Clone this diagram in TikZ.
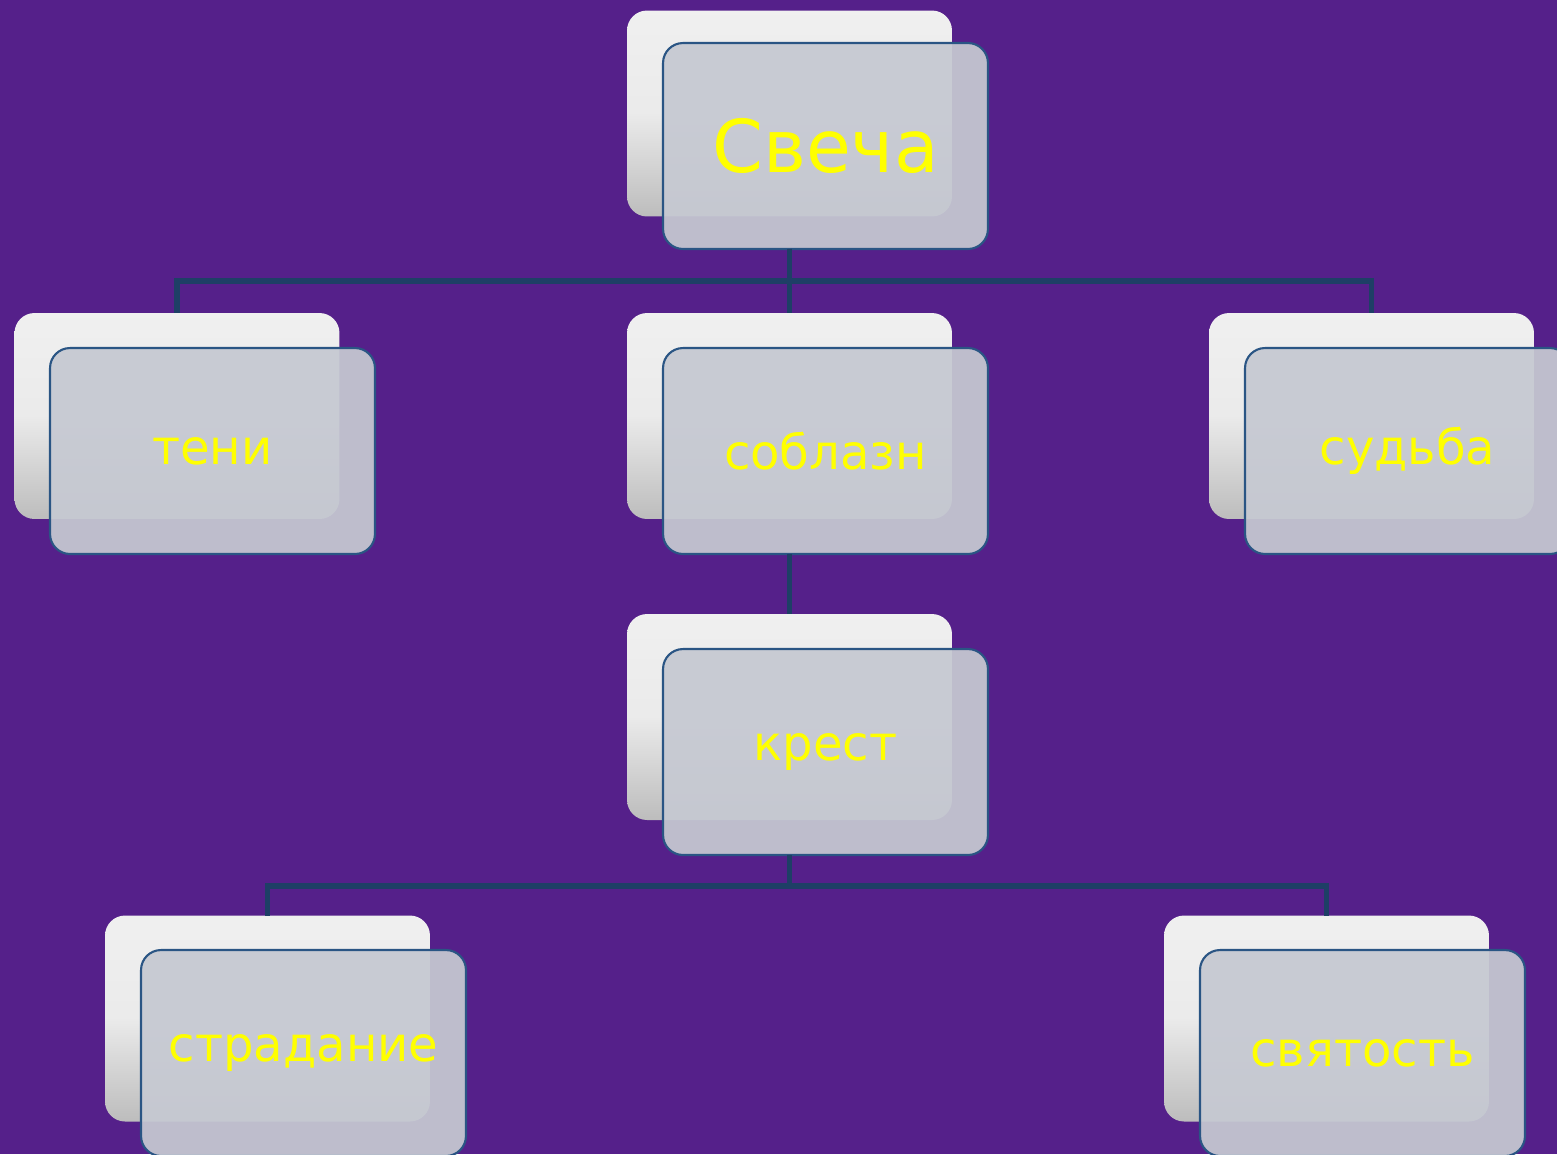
\documentclass[tikz,border=0pt]{standalone}
\usepackage{fontspec}
\setmainfont{DejaVu Sans}
\usepackage{tikz}

\definecolor{bgpurple}{HTML}{55208A}
\definecolor{boxfill}{HTML}{C6C9D2}
\definecolor{boxline}{HTML}{2A5584}
\definecolor{linkline}{HTML}{1E3F66}
\definecolor{wordyellow}{HTML}{FFFF00}

\tikzset{
  backbox/.style={rectangle,rounded corners=0.4cm,minimum width=6.5cm,minimum height=4.12cm,
    inner sep=0pt,outer sep=0pt,top color=gray!12,bottom color=gray!52,middle color=gray!16},
  frontbox/.style={rectangle,rounded corners=0.4cm,minimum width=6.5cm,minimum height=4.12cm,
    inner sep=0pt,outer sep=0pt,draw=boxline,line width=1.2pt,fill=boxfill,fill opacity=0.93,
    text opacity=1,text=wordyellow,font=\fontsize{27.4}{32}\selectfont},
  bigword/.style={font=\fontsize{41.5}{48}\selectfont},
  link/.style={draw=linkline,line width=3pt}
}

\begin{document}
\begin{tikzpicture}[x=0.02cm,y=-0.02cm]
        \useasboundingbox (0,0) rectangle (1557,1154);
        \clip (0,0) rectangle (1557,1154);
        \fill[bgpurple] (0,0) rectangle (1557,1154);

        % back boxes
        \node[backbox] (svecha-b)    at (789.5, 113.5) {};
        \node[backbox] (teni-b)      at (177, 416)     {};
        \node[backbox] (soblazn-b)   at (789.5, 416)   {};
        \node[backbox] (sudba-b)     at (1371.5, 416)  {};
        \node[backbox] (krest-b)     at (789.5, 717)   {};
        \node[backbox] (stradanie-b) at (267.5, 1018.5) {};
        \node[backbox] (svyatost-b)  at (1326.5, 1018.5) {};

        % front boxes
        \node[frontbox,bigword] (svecha) at (825.5, 146)  {Свеча};
        \node[frontbox] (teni)      at (212.5, 451)   {тени};
        \node[frontbox] (soblazn)   at (825.5, 451)   {соблазн};
        \node[frontbox] (sudba)     at (1407.5, 451)  {судьба};
        \node[frontbox] (krest)     at (825.5, 752)   {крест};
        \node[frontbox] (stradanie) at (303.5, 1053)  {страдание};
        \node[frontbox] (svyatost)  at (1362.5, 1053) {святость};

        % connectors
        \path[link] (svecha.south -| svecha-b.north) -- ++(0,32) -| (teni-b.north);
        \path[link] (svecha.south -| svecha-b.north) -- (soblazn-b.north);
        \path[link] (svecha.south -| svecha-b.north) -- ++(0,32) -| (sudba-b.north);
        \path[link] (soblazn.south -| soblazn-b.north) -- (krest-b.north);
        \path[link] (krest.south -| krest-b.north) -- ++(0,31) -| (stradanie-b.north);
        \path[link] (krest.south -| krest-b.north) -- ++(0,31) -| (svyatost-b.north);
\end{tikzpicture}
\end{document}
